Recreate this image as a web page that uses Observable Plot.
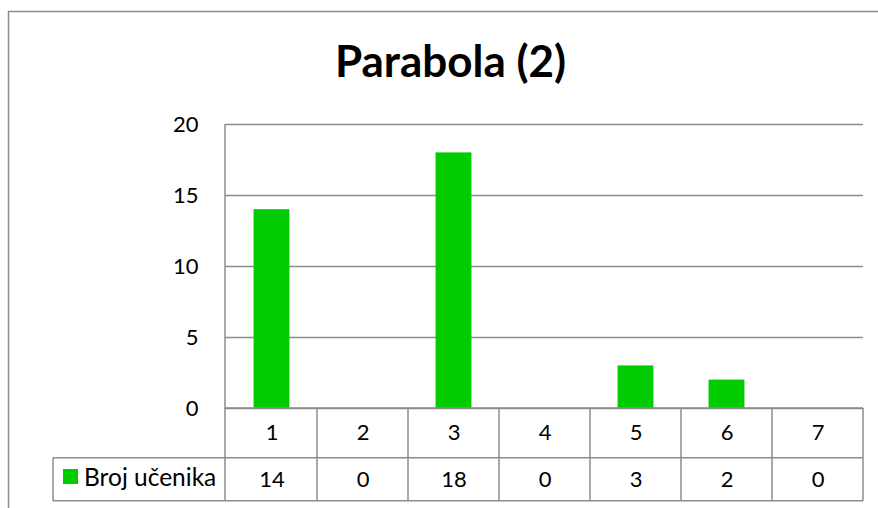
<!DOCTYPE html>
<html>
<head>
<meta charset="utf-8">
<script src="https://cdn.jsdelivr.net/npm/d3@7"></script>
<script src="https://cdn.jsdelivr.net/npm/@observablehq/plot@0.6"></script>
<style>
  html, body { margin: 0; padding: 0; background: #fff; }
  svg { display: block; }
</style>
</head>
<body>
<div id="chart"></div>
<script>
const title = "Parabola (2)";
const seriesName = "Broj učenika";
const categories = ["1", "2", "3", "4", "5", "6", "7"];
const values = [14, 0, 18, 0, 3, 2, 0];
const yTicks = [0, 5, 10, 15, 20];

const data = categories.map((c, i) => ({cat: c, value: values[i]}));

const W = 878, H = 508;
const plotLeft = 225, plotRight = 863, plotTop = 124, zeroY = 408;
const row1 = 457.7, row2 = 500.7;
const green = "#00cc00";
const gridColor = "#8c8c8c";
const font = "Lato, 'Open Sans', sans-serif";

const band = (plotRight - plotLeft) / categories.length;
const inset = (band - 36) / 2;

const plot = Plot.plot({
  width: W,
  height: H,
  marginLeft: plotLeft,
  marginRight: W - plotRight,
  marginTop: plotTop,
  marginBottom: H - zeroY,
  style: {fontFamily: font, fontSize: "21px", color: "#000", background: "#fff"},
  x: {domain: categories, padding: 0, axis: null},
  y: {domain: [0, 20], ticks: yTicks},
  marks: [
    Plot.gridY(yTicks, {stroke: gridColor, strokeOpacity: 1, strokeWidth: 1.5}),
    Plot.barY(data, {x: "cat", y: "value", fill: green, insetLeft: inset, insetRight: inset}),
    Plot.axisY(yTicks, {tickSize: 0, tickPadding: 27, fontSize: 22, fill: "#000", label: null}),
    Plot.text(data, {x: "cat", y: 0, text: "cat", dy: 24, fontSize: 22, fill: "#000"}),
    Plot.text(data, {x: "cat", y: 0, text: d => String(d.value), dy: 71, fontSize: 22, fill: "#000"})
  ]
});

const svg = d3.select(plot);
const xs = plot.scale("x");
const g = svg.append("g").attr("stroke", gridColor).attr("stroke-width", 1.5).attr("fill", "none");

// outer chart border (clipped at right/bottom)
g.append("path").attr("d", `M8.5,${H}V11.5H${W}`);

// y axis line
g.append("line").attr("x1", plotLeft).attr("x2", plotLeft).attr("y1", plotTop).attr("y2", row2);
// table horizontal lines
g.append("line").attr("x1", plotLeft).attr("x2", plotRight).attr("y1", zeroY).attr("y2", zeroY);
g.append("line").attr("x1", 53).attr("x2", plotRight).attr("y1", row1).attr("y2", row1);
g.append("line").attr("x1", 53).attr("x2", plotRight).attr("y1", row2).attr("y2", row2);
g.append("line").attr("x1", 53).attr("x2", 53).attr("y1", row1).attr("y2", row2);
// table vertical lines at band boundaries
categories.forEach(c => {
  const x = xs.apply(c) + xs.bandwidth;
  g.append("line").attr("x1", x).attr("x2", x).attr("y1", zeroY).attr("y2", row2);
});

// legend key in table
svg.append("rect").attr("x", 63).attr("y", 469).attr("width", 15).attr("height", 15).attr("fill", green);
svg.append("text").attr("x", 84).attr("y", 486).attr("text-anchor", "start")
  .attr("font-family", font).attr("font-size", 24.5)
  .attr("fill", "#000").text(seriesName);

// title
svg.append("text").attr("x", 450.5).attr("y", 77).attr("text-anchor", "middle")
  .attr("font-family", font).attr("font-weight", "bold").attr("font-size", 44)
  .attr("fill", "#000").text(title);

document.getElementById("chart").appendChild(plot);
</script>
</body>
</html>
